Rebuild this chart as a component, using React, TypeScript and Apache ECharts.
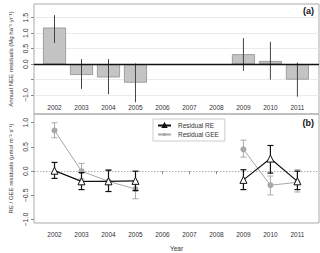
import React, { useEffect, useRef } from "react";
import * as echarts from "echarts";

const years = [2002, 2003, 2004, 2005, 2006, 2007, 2008, 2009, 2010, 2011];
const neeValues = [1.18, -0.35, -0.43, -0.6, null, null, null, 0.32, 0.1, -0.5];
const neeLow = [0.68, -0.8, -0.97, -1.23, null, null, null, -0.22, -0.5, -1.05];
const neeHigh = [1.58, 0.16, 0.16, 0.02, null, null, null, 0.84, 0.72, 0.05];

const reValues = [0.01, -0.21, -0.21, -0.2, null, null, null, -0.18, 0.26, -0.21];
const reLow = [-0.15, -0.38, -0.42, -0.4, null, null, null, -0.38, -0.04, -0.38];
const reHigh = [0.18, -0.03, 0.02, 0.0, null, null, null, 0.03, 0.53, 0.0];

const geeValues = [0.84, 0.0, -0.21, -0.37, null, null, null, 0.45, -0.29, -0.23];
const geeLow = [0.69, -0.16, -0.42, -0.57, null, null, null, 0.29, -0.49, -0.43];
const geeHigh = [1.0, 0.16, 0.03, -0.2, null, null, null, 0.64, -0.1, 0.03];

const topTicks = [-1.0, -0.5, 0.0, 0.5, 1.0, 1.5];
const topLabels = [-1.0, 0.0, 0.5, 1.0, 1.5];
const bottomTicks = [-1.0, -0.5, 0.0, 0.5, 1.0];

const FONT = "Liberation Sans, Arial, sans-serif";

function errData(low: (number | null)[], high: (number | null)[]) {
  const out: number[][] = [];
  years.forEach((y, i) => {
    const l = low[i];
    const h = high[i];
    if (l !== null && h !== null) out.push([y, l, h]);
  });
  return out;
}

function makeErr(cap: number, color: string, width: number) {
  return (params: any, api: any) => {
    const x = api.value(0);
    const lo = api.coord([x, api.value(1)]);
    const hi = api.coord([x, api.value(2)]);
    const style = { stroke: color, lineWidth: width, fill: "none" };
    const children: any[] = [
      { type: "line", shape: { x1: lo[0], y1: lo[1], x2: hi[0], y2: hi[1] }, style },
    ];
    if (cap > 0) {
      children.push({ type: "line", shape: { x1: lo[0] - cap, y1: lo[1], x2: lo[0] + cap, y2: lo[1] }, style });
      children.push({ type: "line", shape: { x1: hi[0] - cap, y1: hi[1], x2: hi[0] + cap, y2: hi[1] }, style });
    }
    return { type: "group", children };
  };
}

const fmtNum = (v: number) => (Math.abs(v) < 1e-9 ? "0.0" : v < 0 ? "\u2212" + Math.abs(v).toFixed(1) : v.toFixed(1));

export default function App() {
  const ref = useRef<HTMLDivElement>(null);
  useEffect(() => {
    document.body.style.margin = "0";
    const chart = echarts.init(ref.current!, null, { renderer: "svg" });
    const xCommon = {
      type: "value" as const,
      min: 2001.24,
      max: 2011.8,
      minInterval: 1,
      maxInterval: 1,
      splitLine: { show: false },
    };
    const yCommonLabel = {
      rotate: 90,
      fontSize: 7,
      color: "#333",
      fontFamily: FONT,
      margin: 5,
      formatter: (v: number) => fmtNum(v),
    };
    chart.setOption({
      animation: false,
      backgroundColor: "#fff",
      textStyle: { fontFamily: FONT },
      grid: [
        { left: 31, right: 1, top: 4, height: 110, show: true, borderColor: "#aaa", borderWidth: 1 },
        { left: 31, right: 1, top: 114, height: 110.5, show: true, borderColor: "#aaa", borderWidth: 1 },
      ],
      xAxis: [
        {
          ...xCommon,
          gridIndex: 0,
          axisLine: { show: false },
          axisTick: { show: false },
          axisLabel: {
            inside: true,
            fontSize: 6.5,
            color: "#333",
            fontFamily: FONT,
            margin: 3,
            customValues: years,
            formatter: (v: number) => String(Math.round(v)),
          },
        },
        {
          ...xCommon,
          gridIndex: 1,
          name: "Year",
          nameLocation: "middle",
          nameGap: 22,
          nameTextStyle: { fontSize: 6.5, color: "#333", fontFamily: FONT },
          axisLine: { show: false },
          axisTick: { show: true, length: 3, lineStyle: { color: "#888" }, customValues: years },
          axisLabel: {
            fontSize: 6.5,
            color: "#333",
            fontFamily: FONT,
            margin: 8,
            customValues: years,
            formatter: (v: number) => String(Math.round(v)),
          },
        },
      ],
      yAxis: [
        {
          type: "value",
          gridIndex: 0,
          min: -1.61,
          max: 1.94,
          minInterval: 0.5,
          maxInterval: 0.5,
          name: "Annual NEE residuals (Mg ha\u207B\u00B9 yr\u207B\u00B9)",
          nameLocation: "middle",
          nameRotate: 90,
          nameGap: 20,
          nameTextStyle: { fontSize: 6, color: "#333", fontFamily: FONT },
          axisLine: { show: false },
          axisTick: { show: true, length: 3, lineStyle: { color: "#888" }, customValues: topTicks },
          axisLabel: { ...yCommonLabel, customValues: topLabels },
          splitLine: { show: false },
        },
        {
          type: "value",
          gridIndex: 1,
          min: -1.07,
          max: 1.18,
          minInterval: 0.5,
          maxInterval: 0.5,
          name: "RE / GEE residuals (\u03BCmol m\u207B\u00B2 s\u207B\u00B9)",
          nameLocation: "middle",
          nameRotate: 90,
          nameGap: 20,
          nameTextStyle: { fontSize: 6, color: "#333", fontFamily: FONT },
          axisLine: { show: false },
          axisTick: { show: true, length: 3, lineStyle: { color: "#888" }, customValues: bottomTicks },
          axisLabel: { ...yCommonLabel, customValues: bottomTicks },
          splitLine: { show: false },
        },
      ],
      legend: {
        orient: "vertical",
        left: 153,
        top: 119,
        padding: [3, 6, 3, 4],
        itemGap: 2,
        itemWidth: 13,
        itemHeight: 4,
        borderColor: "#ccc",
        borderWidth: 1,
        backgroundColor: "#fff",
        textStyle: { fontSize: 6.5, color: "#333", fontFamily: FONT, padding: [0, 0, 0, 2] },
        data: ["Residual RE", "Residual GEE"],
      },
      graphic: [
        { type: "text", right: 6, top: 6, style: { text: "(a)", fontSize: 9, fontWeight: "bold", fill: "#111", fontFamily: FONT } },
        { type: "text", right: 6, top: 118, style: { text: "(b)", fontSize: 9, fontWeight: "bold", fill: "#111", fontFamily: FONT } },
      ],
      series: [
        {
          type: "line",
          xAxisIndex: 0,
          yAxisIndex: 0,
          data: [],
          silent: true,
          z: 0,
          markLine: {
            silent: true,
            symbol: "none",
            z: 0,
            label: { show: false },
            data: topTicks.filter((v) => v !== 0).map((v) => ({ yAxis: v, lineStyle: { color: "#ebebeb", width: 1, type: "solid" } })),
          },
        },
        {
          type: "bar",
          xAxisIndex: 0,
          yAxisIndex: 0,
          barWidth: 23,
          itemStyle: { color: "#c4c4c4", borderColor: "#8f8f8f", borderWidth: 0.8 },
          data: years.map((y, i) => [y, neeValues[i] === null ? "-" : neeValues[i]]),
          markLine: {
            silent: true,
            symbol: "none",
            z: 6,
            label: { show: false },
            data: [{ yAxis: 0, lineStyle: { color: "#111", width: 1.3, type: "solid" } }],
          },
          z: 2,
        },
        {
          type: "custom",
          xAxisIndex: 0,
          yAxisIndex: 0,
          renderItem: makeErr(0, "#444", 1),
          encode: { x: 0, y: [1, 2] },
          data: errData(neeLow, neeHigh),
          z: 5,
        },
        {
          type: "custom",
          xAxisIndex: 1,
          yAxisIndex: 1,
          renderItem: makeErr(3, "#aaa", 1),
          encode: { x: 0, y: [1, 2] },
          data: errData(geeLow, geeHigh),
          z: 3,
        },
        {
          name: "Residual GEE",
          type: "line",
          xAxisIndex: 1,
          yAxisIndex: 1,
          connectNulls: false,
          symbol: "circle",
          symbolSize: 6,
          itemStyle: { color: "#a8a8a8" },
          lineStyle: { color: "#a8a8a8", width: 1 },
          data: years.map((y, i) => [y, geeValues[i] === null ? "-" : geeValues[i]]),
          markLine: {
            silent: true,
            symbol: "none",
            z: 1,
            label: { show: false },
            data: [{ yAxis: 0, lineStyle: { color: "#999", width: 0.8, type: [1.5, 1.5] } }],
          },
          z: 4,
        },
        {
          type: "custom",
          xAxisIndex: 1,
          yAxisIndex: 1,
          renderItem: makeErr(3, "#111", 1.2),
          encode: { x: 0, y: [1, 2] },
          data: errData(reLow, reHigh),
          z: 6,
        },
        {
          name: "Residual RE",
          type: "line",
          xAxisIndex: 1,
          yAxisIndex: 1,
          connectNulls: false,
          symbol: "triangle",
          symbolSize: 7,
          itemStyle: { color: "#fff", borderColor: "#111", borderWidth: 1 },
          lineStyle: { color: "#111", width: 1.2 },
          data: years.map((y, i) => [y, reValues[i] === null ? "-" : reValues[i]]),
          z: 7,
        },
      ],
    });
    return () => chart.dispose();
  }, []);
  return <div ref={ref} style={{ width: 320, height: 253 }} />;
}
